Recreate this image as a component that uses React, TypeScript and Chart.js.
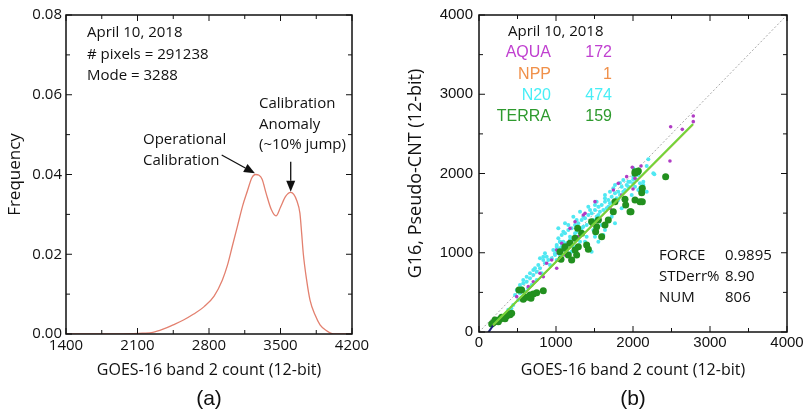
import React, { useEffect, useRef } from "react";
import { Chart, registerables } from "chart.js";
Chart.register(...registerables);

// ---------- Panel (a) data ----------
const histCounts = [1400, 1800, 1950, 2060, 2150, 2250, 2350, 2450, 2550, 2650, 2750, 2850, 2930, 2980, 3030, 3080, 3130, 3175, 3220, 3255, 3290, 3320, 3360, 3410, 3456, 3500, 3550, 3600, 3630, 3660, 3690, 3707, 3723, 3756, 3789, 3838, 3887, 3952, 4017, 4200];
const histFreq = [0, 0, 0.00003, 0.0001, 0.0002, 0.0004, 0.0012, 0.0023, 0.0035, 0.005, 0.0068, 0.0095, 0.0135, 0.0172, 0.0222, 0.0272, 0.0322, 0.0358, 0.0392, 0.04, 0.0398, 0.0388, 0.0352, 0.0312, 0.0296, 0.0318, 0.0345, 0.0355, 0.035, 0.0334, 0.0303, 0.0253, 0.0202, 0.0135, 0.0085, 0.0048, 0.0023, 0.0008, 0, 0];
const histXTicks = [1400, 2100, 2800, 3500, 4200];
const histYTicks = [0, 0.02, 0.04, 0.06, 0.08];
const histInfo = ["April 10, 2018", "# pixels = 291238", "Mode = 3288"];
const opLabel = ["Operational", "Calibration"];
const anomLabel = ["Calibration", "Anomaly", "(~10% jump)"];
const arrowOpFrom = { x: 2924, y: 0.0449 };
const arrowOpTo = { x: 3250, y: 0.0403 };
const arrowAnomFrom = { x: 3600, y: 0.0432 };
const arrowAnomTo = { x: 3600, y: 0.0357 };

// ---------- Panel (b) data ----------
const scatterTicks = [0, 1000, 2000, 3000, 4000];
const n20X = [1961, 2004, 1918, 2048, 1853, 1896, 1809, 1766, 1831, 1723, 1788, 1680, 1636, 1701, 1593, 1550, 1658, 1506, 1571, 1463, 1420, 1528, 1377, 1333, 1442, 1290, 1247, 1355, 1203, 1160, 1268, 1117, 1074, 1182, 1030, 1095, 1009, 1052, 1139, 1203, 987, 1074, 1312, 1398, 1485, 1593, 1723, 1853, 1983, 2069, 2134, 1030, 1117, 1225, 1312, 1420, 1528, 1636, 1745, 1874, 1463, 1550, 1615, 1074, 1117, 1030, 987, 1052, 944, 900, 857, 922, 792, 749, 814, 705, 662, 749, 619, 575, 684, 640, 554, 597, 532, 705, 835, 1139, 1009, 510, 445, 2004, 2264, 2134, 2178, 2277, 2199, 2178, 2004, 1939, 2091, 1831, 250, 300, 350, 420, 380,
  1939, 1874, 1809, 1745, 1680, 1615, 1550, 1485, 1398, 1333, 1247, 1182, 1139, 1074, 1009, 2004, 2069, 1766, 1701, 1636, 1506, 1442, 1355, 1268, 1160, 1095, 1052, 1225, 1377, 1506, 1636, 1766, 2091, 2026,
  965, 1009, 879, 835, 770, 727, 662, 619, 575, 532, 490, 468, 857, 792, 1052];
const n20Y = [1897, 1876, 1855, 1918, 1834, 1792, 1771, 1750, 1729, 1708, 1687, 1666, 1645, 1624, 1602, 1581, 1560, 1539, 1518, 1497, 1476, 1455, 1434, 1413, 1392, 1371, 1350, 1329, 1308, 1287, 1266, 1245, 1224, 1203, 1182, 1140, 1098, 1056, 1035, 1014, 972, 951, 1140, 1203, 1287, 1350, 1455, 1560, 1729, 1792, 1855, 1308, 1371, 1455, 1518, 1581, 1645, 1729, 1813, 1918, 1014, 1140, 1224, 1119, 1077, 1035, 993, 972, 930, 908, 867, 845, 804, 761, 741, 719, 678, 656, 635, 614, 593, 551, 551, 509, 488, 782, 950, 1014, 908, 404, 341, 2065, 2002, 1897, 1771, 1990, 2179, 2095, 1927, 1897, 1817, 1880, 150, 190, 230, 300, 280,
  1834, 1771, 1666, 1645, 1581, 1539, 1476, 1413, 1350, 1308, 1245, 1161, 1119, 1077, 1035, 1960, 1981, 1855, 1771, 1687, 1602, 1539, 1455, 1413, 1350, 1266, 1140, 1077, 1140, 1203, 1287, 1371, 1876, 1834,
  1035, 1077, 950, 908, 845, 804, 741, 698, 656, 593, 530, 467, 993, 930, 1140];
const aquaX = [2783, 2783, 2489, 2640, 2480, 2104, 1991, 2000, 879, 944, 792, 835, 705, 640, 1030, 1182, 1160, 1009, 554, 490, 2026, 1918, 1745, 1506, 1377, 1355, 1853, 1701, 1247, 1182, 1074, 1009, 1571, 1463, 1290, 1117, 1809];
const aquaY = [2725, 2654, 2590, 2557, 2158, 2095, 2078, 1804, 867, 908, 741, 698, 635, 572, 993, 908, 1119, 804, 509, 446, 1939, 1960, 1792, 1645, 1497, 1476, 1729, 1560, 1392, 1308, 1119, 1035, 1413, 1350, 1203, 972, 1876];
const terraX = [2026, 2061, 2121, 2113, 2121, 2026, 1905, 1974, 1744, 1679, 1636, 1550, 1528, 1515, 1593, 1463, 1281, 1333, 1247, 1182, 1117, 1290, 1398, 1420, 1247, 1052, 1160, 1204, 1065, 1896, 2424, 2069, 2026, 1117, 1268, 835, 662, 705, 554, 619, 575, 749, 519, 675, 186, 229, 273, 316, 359, 403, 424, 208, 294, 381, 338, 251, 165, 2091, 1961, 1766];
const terraY = [2002, 2023, 1813, 1758, 1644, 1666, 1602, 1518, 1518, 1413, 1350, 1413, 1329, 1266, 1203, 1392, 1308, 1245, 1182, 1119, 1077, 1077, 1098, 1043, 1035, 1013, 972, 908, 917, 1674, 1960, 2031, 2023, 1056, 972, 521, 467, 479, 530, 438, 412, 496, 530, 425, 118, 139, 160, 181, 202, 219, 236, 151, 185, 227, 168, 130, 101, 1644, 1518, 1644];
const fitLine = [{ x: 182, y: 88 }, { x: 2780, y: 2624 }];
const nppLine = [{ x: 182, y: 80 }, { x: 2780, y: 2614 }];
const lowLine = [{ x: 110, y: -20 }, { x: 190, y: 92 }];
const oneToOne = [{ x: 0, y: 0 }, { x: 4000, y: 4000 }];
const satNames = ["AQUA", "NPP", "N20", "TERRA"];
const satCounts = [172, 1, 474, 159];
const statNames = ["FORCE", "STDerr%", "NUM"];
const statValues = ["0.9895", "8.90", "806"];

const SAT_COLORS = ["#c040d0", "#f0904a", "#48eef6", "#2e9a2e"];
const CAL = "'Open Sans', 'DejaVu Sans', sans-serif";
const ARIAL = "'Liberation Sans', Arial, sans-serif";

function pts(xs: number[], ys: number[]) {
  return xs.map((x, i) => ({ x, y: ys[i] }));
}

const frameTicks = {
  id: "frameTicks",
  afterDatasetsDraw(chart: any, _a: any, opts: any) {
    const { ctx, chartArea: ca, scales } = chart;
    ctx.save();
    ctx.strokeStyle = "#111";
    ctx.lineWidth = 1.5;
    ctx.strokeRect(ca.left, ca.top, ca.right - ca.left, ca.bottom - ca.top);
    ctx.lineWidth = 1;
    const drawAxis = (scale: any, minor: number, major: number, horiz: boolean) => {
      const n = Math.round((scale.max - scale.min) / minor);
      for (let i = 0; i <= n; i++) {
        const v = scale.min + i * minor;
        const isMajor = Math.abs((v - scale.min) / major - Math.round((v - scale.min) / major)) < 1e-6;
        const len = isMajor ? 6 : 4;
        const p = scale.getPixelForValue(v);
        ctx.beginPath();
        if (horiz) {
          ctx.moveTo(p, ca.bottom); ctx.lineTo(p, ca.bottom - len);
          ctx.moveTo(p, ca.top); ctx.lineTo(p, ca.top + len);
        } else {
          ctx.moveTo(ca.left, p); ctx.lineTo(ca.left + len, p);
          ctx.moveTo(ca.right, p); ctx.lineTo(ca.right - len, p);
        }
        ctx.stroke();
      }
    };
    drawAxis(scales.x, opts.xMinor, opts.xMajor, true);
    drawAxis(scales.y, opts.yMinor, opts.yMajor, false);
    ctx.restore();
  },
};

function arrow(ctx: any, x1: number, y1: number, x2: number, y2: number) {
  const ang = Math.atan2(y2 - y1, x2 - x1);
  const hl = 11, hw = 4.5;
  const bx = x2 - hl * Math.cos(ang), by = y2 - hl * Math.sin(ang);
  ctx.beginPath();
  ctx.moveTo(x1, y1); ctx.lineTo(bx, by);
  ctx.stroke();
  ctx.beginPath();
  ctx.moveTo(x2, y2);
  ctx.lineTo(bx + hw * Math.sin(ang), by - hw * Math.cos(ang));
  ctx.lineTo(bx - hw * Math.sin(ang), by + hw * Math.cos(ang));
  ctx.closePath();
  ctx.fill();
}

const histText = {
  id: "histText",
  afterDraw(chart: any) {
    const { ctx, chartArea: ca, scales } = chart;
    ctx.save();
    ctx.fillStyle = "#111";
    ctx.strokeStyle = "#111";
    ctx.lineWidth = 1.3;
    ctx.font = `15px ${CAL}`;
    ctx.textBaseline = "middle";
    ctx.textAlign = "left";
    histInfo.forEach((t, i) => ctx.fillText(t, ca.left + 21, ca.top + 18 + i * 21.5));
    opLabel.forEach((t, i) => ctx.fillText(t, ca.left + 77, ca.top + 125 + i * 20.5));
    anomLabel.forEach((t, i) => ctx.fillText(t, ca.left + 193, ca.top + 89 + i * 20.5));
    const X = scales.x, Y = scales.y;
    arrow(ctx, X.getPixelForValue(arrowOpFrom.x), Y.getPixelForValue(arrowOpFrom.y), X.getPixelForValue(arrowOpTo.x), Y.getPixelForValue(arrowOpTo.y));
    arrow(ctx, X.getPixelForValue(arrowAnomFrom.x), Y.getPixelForValue(arrowAnomFrom.y), X.getPixelForValue(arrowAnomTo.x), Y.getPixelForValue(arrowAnomTo.y));
    ctx.restore();
  },
};

const scatterText = {
  id: "scatterText",
  afterDraw(chart: any) {
    const { ctx, chartArea: ca } = chart;
    ctx.save();
    ctx.textBaseline = "middle";
    ctx.fillStyle = "#111";
    ctx.font = `15px ${CAL}`;
    ctx.textAlign = "left";
    ctx.fillText("April 10, 2018", ca.left + 29, ca.top + 17);
    ctx.font = `16px ${ARIAL}`;
    satNames.forEach((n, i) => {
      ctx.fillStyle = SAT_COLORS[i];
      ctx.textAlign = "right";
      ctx.fillText(n, ca.left + 72, ca.top + 38 + i * 21.3);
      ctx.fillText(String(satCounts[i]), ca.left + 133, ca.top + 38 + i * 21.3);
    });
    ctx.fillStyle = "#111";
    ctx.font = `15px ${CAL}`;
    ctx.textAlign = "left";
    statNames.forEach((n, i) => {
      ctx.fillText(n, ca.left + 180, ca.top + 241 + i * 20.7);
      ctx.fillText(statValues[i], ca.left + 246, ca.top + 241 + i * 20.7);
    });
    ctx.restore();
  },
};

export default function App() {
  const refA = useRef<HTMLCanvasElement>(null);
  const refB = useRef<HTMLCanvasElement>(null);

  useEffect(() => {
    document.body.style.margin = "0";
    const chartA = new Chart(refA.current as HTMLCanvasElement, {
      type: "line",
      data: {
        datasets: [
          {
            data: pts(histCounts, histFreq),
            borderColor: "#e3806f",
            borderWidth: 1.3,
            pointRadius: 0,
            cubicInterpolationMode: "monotone",
            fill: false,
          },
        ],
      },
      options: {
        animation: false,
        responsive: false,
        maintainAspectRatio: false,
        layout: { padding: { left: 0, right: 48, top: 15, bottom: 0 } },
        plugins: {
          legend: { display: false },
          tooltip: { enabled: false },
          frameTicks: { xMinor: 350, xMajor: 700, yMinor: 0.01, yMajor: 0.02 },
          title: {
            display: true,
            text: "(a)",
            position: "bottom",
            fullSize: false,
            color: "#111",
            font: { family: ARIAL, size: 21, weight: "normal" },
            padding: { top: 2, bottom: 2 },
          },
        } as any,
        scales: {
          x: {
            type: "linear",
            min: 1400,
            max: 4200,
            afterBuildTicks: (s: any) => { s.ticks = histXTicks.map((v) => ({ value: v })); },
            afterFit: (s: any) => { s.height = 50.8; },
            grid: { display: false, drawTicks: false },
            border: { display: false },
            ticks: { padding: 3, color: "#111", font: { family: CAL, size: 15 }, maxRotation: 0, autoSkip: false, callback: (v: any) => String(v) },
            title: { display: true, text: "GOES-16 band 2 count (12-bit)", color: "#111", font: { family: CAL, size: 16 }, padding: { top: 0, bottom: 5 } },
          },
          y: {
            type: "linear",
            min: 0,
            max: 0.08,
            afterBuildTicks: (s: any) => { s.ticks = histYTicks.map((v) => ({ value: v })); },
            afterFit: (s: any) => { s.width = 66; },
            grid: { display: false, drawTicks: false },
            border: { display: false },
            ticks: { padding: 4, color: "#111", font: { family: CAL, size: 15 }, callback: (v: any) => Number(v).toFixed(2) },
            title: { display: true, text: "Frequency", color: "#111", font: { family: CAL, size: 17 }, padding: { top: 5, bottom: 0 } },
          },
        },
      },
      plugins: [frameTicks, histText],
    } as any);

    const chartB = new Chart(refB.current as HTMLCanvasElement, {
      type: "scatter",
      data: {
        datasets: [
          { data: fitLine, showLine: true, borderColor: "#72d43a", borderWidth: 2, pointRadius: 0 },
          { data: nppLine, showLine: true, borderColor: "#d8a040", borderWidth: 1.2, pointRadius: 0 },
          { data: lowLine, showLine: true, borderColor: "#1a237e", borderWidth: 2, pointRadius: 0 },
          { data: pts(terraX, terraY), backgroundColor: "#22901f", borderWidth: 0, pointRadius: 3.5 },
          { data: pts(aquaX, aquaY), backgroundColor: "#b03cc4", borderWidth: 0, pointRadius: 1.8 },
          { data: pts(n20X, n20Y), backgroundColor: "#50e8f2", borderWidth: 0, pointRadius: 2 },
          { data: oneToOne, showLine: true, borderColor: "#a8a8a8", borderWidth: 1, borderDash: [2, 2], pointRadius: 0 },
        ],
      },
      options: {
        animation: false,
        responsive: false,
        maintainAspectRatio: false,
        layout: { padding: { left: 0, right: 22, top: 15, bottom: 0 } },
        plugins: {
          legend: { display: false },
          tooltip: { enabled: false },
          frameTicks: { xMinor: 500, xMajor: 1000, yMinor: 500, yMajor: 1000 },
          title: {
            display: true,
            text: "(b)",
            position: "bottom",
            fullSize: false,
            color: "#111",
            font: { family: ARIAL, size: 21, weight: "normal" },
            padding: { top: 2, bottom: 2 },
          },
        } as any,
        scales: {
          x: {
            type: "linear",
            min: 0,
            max: 4000,
            afterBuildTicks: (s: any) => { s.ticks = scatterTicks.map((v) => ({ value: v })); },
            afterFit: (s: any) => { s.height = 52.8; },
            grid: { display: false, drawTicks: false },
            border: { display: false },
            ticks: { padding: 2, color: "#111", font: { family: ARIAL, size: 15 }, maxRotation: 0, autoSkip: false, callback: (v: any) => String(v) },
            title: { display: true, text: "GOES-16 band 2 count (12-bit)", color: "#111", font: { family: CAL, size: 16 }, padding: { top: 0, bottom: 5 } },
          },
          y: {
            type: "linear",
            min: 0,
            max: 4000,
            afterBuildTicks: (s: any) => { s.ticks = scatterTicks.map((v) => ({ value: v })); },
            afterFit: (s: any) => { s.width = 79; },
            grid: { display: false, drawTicks: false },
            border: { display: false },
            ticks: { padding: 6, color: "#111", font: { family: ARIAL, size: 15 }, callback: (v: any) => String(v) },
            title: { display: true, text: "G16, Pseudo-CNT (12-bit)", color: "#111", font: { family: CAL, size: 18 }, padding: { top: 5, bottom: 0 } },
          },
        },
      },
      plugins: [frameTicks, scatterText],
    } as any);

    return () => {
      chartA.destroy();
      chartB.destroy();
    };
  }, []);

  return (
    <div style={{ position: "fixed", left: 0, top: 0, width: 809, height: 414, background: "#fff" }}>
      <canvas ref={refA} width={400} height={414} style={{ position: "absolute", left: 0, top: 0, width: 400, height: 414 }} />
      <canvas ref={refB} width={409} height={414} style={{ position: "absolute", left: 400, top: 0, width: 409, height: 414 }} />
    </div>
  );
}
